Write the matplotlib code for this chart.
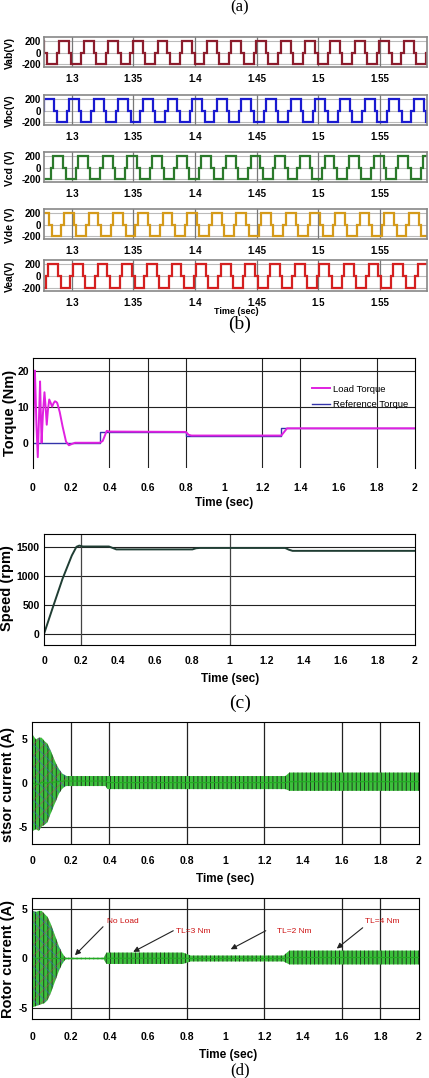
import numpy as np
import matplotlib
matplotlib.use("Agg")
import matplotlib.pyplot as plt

plt.rcParams['font.family'] = ['Liberation Sans', 'DejaVu Sans']
plt.rcParams['hatch.linewidth'] = 0.6
plt.rcParams['axes.unicode_minus'] = False
narrow = ['Liberation Sans Narrow', 'Liberation Sans', 'DejaVu Sans']

# ---- (b) five line voltages ----
volt_names = ['Vab(V)', 'Vbc(V)', 'Vcd (V)', 'Vde (V)', 'Vea(V)']
volt_colors = ['#8b1c2c', '#1a1ad0', '#2c7a2c', '#d49a1a', '#d42020']
volt_rise = [1.2897, 1.2978, 1.2852, 1.2937, 1.2810]   # start of a +200 V step
step_levels = [200, 0, -200, 0]
step_widths = [0.008, 0.002, 0.008, 0.002]
volt_ticks = [1.3, 1.35, 1.4, 1.45, 1.5, 1.55]

# ---- (c) torque and speed ----
load_t = [0, 0.005, 0.010, 0.018, 0.025, 0.032, 0.037, 0.042, 0.045, 0.052, 0.060,
          0.066, 0.072, 0.078, 0.085, 0.093, 0.100, 0.108, 0.115, 0.122, 0.127,
          0.140, 0.155, 0.173, 0.188, 0.205, 0.22, 0.35, 0.365, 0.386, 0.40,
          0.80, 0.815, 0.83, 1.30, 1.315, 1.33, 2.0]
load_v = [0, 12, 20, 5, -4, 8, 17, 6, 0, 8, 14, 10, 5, 9, 12, 11, 10, 11, 11.5,
          11.3, 11, 8.5, 4.5, 0.3, -0.7, -0.3, 0, 0, 0.5, 3.3, 3.1, 3.0, 2.2,
          2.0, 2.0, 3.0, 4.0, 4.0]
ref_t = [0, 0.35, 0.35, 0.80, 0.80, 1.30, 1.30, 2.0]
ref_v = [0, 0, 3, 3, 2, 2, 4, 4]

speed_t = [0, 0.05, 0.10, 0.15, 0.175, 0.19, 0.21, 0.35, 0.37, 0.39, 0.80, 0.82,
           0.84, 1.30, 1.32, 1.34, 2.0]
speed_v = [0, 480, 950, 1350, 1500, 1520, 1505, 1505, 1480, 1455, 1455, 1475,
           1480, 1480, 1450, 1430, 1430]

# ---- (d) current envelopes ----
stator_t = [0, 0.005, 0.02, 0.035, 0.05, 0.065, 0.08, 0.095, 0.11, 0.125, 0.14,
            0.155, 0.17, 0.18, 0.38, 0.39, 1.31, 1.33, 2.0]
stator_hi = [0, 5.5, 5.0, 5.2, 5.2, 4.8, 4.5, 3.8, 3.0, 2.2, 1.6, 1.1, 0.9, 0.8,
             0.8, 0.8, 0.8, 1.2, 1.2]
stator_lo = [0, -5.5, -5.3, -5.5, -5.0, -4.8, -4.5, -3.6, -2.8, -2.0, -1.2, -0.7,
             -0.4, -0.35, -0.35, -0.7, -0.7, -0.9, -0.9]

rotor_t = [0, 0.005, 0.02, 0.035, 0.05, 0.065, 0.08, 0.095, 0.11, 0.125, 0.14,
           0.155, 0.17, 0.18, 0.37, 0.385, 0.78, 0.82, 1.30, 1.33, 2.0]
rotor_hi = [0, 4.8, 4.7, 4.8, 4.8, 4.5, 4.2, 3.6, 2.8, 2.0, 1.2, 0.6, 0.15, 0.08,
            0.08, 0.6, 0.6, 0.3, 0.3, 0.8, 0.8]
rotor_lo = [0, -4.9, -4.8, -4.7, -4.6, -4.5, -4.2, -3.6, -2.8, -2.0, -1.2, -0.6,
            -0.15, -0.08, -0.08, -0.55, -0.55, -0.3, -0.3, -0.6, -0.6]

time_ticks = [0, 0.2, 0.4, 0.6, 0.8, 1, 1.2, 1.4, 1.6, 1.8, 2]
time_labels = ['0', '0.2', '0.4', '0.6', '0.8', '1', '1.2', '1.4', '1.6', '1.8', '2']
annot_text = ['No Load', 'TL=3 Nm', 'TL=2 Nm', 'TL=4 Nm']
annot_txt_xy = [(0.386, 3.7), (0.744, 2.7), (1.267, 2.7), (1.72, 3.7)]
annot_tail = [(0.367, 3.2), (0.73, 2.8), (1.208, 2.8), (1.709, 3.1)]
annot_head = [(0.222, 0.33), (0.523, 0.67), (1.027, 0.93), (1.575, 1.0)]

W, H = 429, 1078
fig = plt.figure(figsize=(W / 100, H / 100), dpi=100)


def box(l, t, r, b):
    return fig.add_axes([l / W, 1 - b / H, (r - l) / W, (b - t) / H])


def ftext(x, y, s, **kw):
    fig.text(x / W, 1 - y / H, s, **kw)


ftext(240, 7, '(a)', family='Liberation Serif', size=12, ha='center', va='center')

# voltage panels
vboxes = [(44, 37, 427, 67), (44, 95, 427, 125), (44, 152, 427, 182),
          (44, 209, 427, 239), (44, 260, 427, 291)]
offs = np.concatenate([[0], np.cumsum(step_widths)])[:-1]
period = sum(step_widths)
for name, col, rise, bx in zip(volt_names, volt_colors, volt_rise, vboxes):
    ax = box(*bx)
    k = np.arange(-3, 18)
    edges = (rise + k[:, None] * period + offs[None, :]).ravel()
    edges = np.append(edges, edges[-1] + step_widths[-1])
    vals = np.tile(step_levels, len(k))
    ax.stairs(vals, edges, baseline=None, color=col, lw=1.6)
    ax.set_xlim(1.2775, 1.5884)
    ax.set_ylim(-250, 270)
    ax.set_yticks([200, 0, -200])
    ax.set_yticklabels(['200', '0', '-200'], fontweight='bold', fontsize=7)
    ax.set_xticks(volt_ticks)
    ax.set_xticklabels([str(v) for v in volt_ticks], fontweight='bold', fontsize=7)
    ax.tick_params(length=0, pad=5)
    ax.tick_params(axis='y', pad=2)
    for v in [200, 0, -200]:
        ax.axhline(v, color='#bbbbbb', lw=0.8, zorder=0)
    for v in volt_ticks:
        ax.axvline(v, color='#777777', lw=0.9, zorder=0)
    for s in ax.spines.values():
        s.set_color('#888888')
        s.set_linewidth(1.2)
    ftext(10, (bx[1] + bx[3]) / 2 + 1, name, rotation=90, fontweight='bold',
          fontsize=7.5, ha='center', va='center')

ftext(236, 312, 'Time (sec)', fontweight='bold', fontsize=6.5, ha='center', va='center')
ftext(240, 324, '(b)', family='Liberation Serif', size=14, ha='center', va='center')


def time_axis(ax, pad):
    ax.set_xlim(0, 2)
    ax.set_xticks(time_ticks)
    ax.set_xticklabels(time_labels, family=narrow, fontweight='bold', fontsize=7.5)
    ax.tick_params(axis='x', length=0, pad=pad)
    ax.tick_params(axis='y', length=0, pad=3)
    for lab in ax.get_yticklabels():
        lab.set_family(narrow)
        lab.set_fontweight('bold')
        lab.set_fontsize(7.5)


# torque
ax = box(33, 358, 415, 468)
ax.plot(ref_t, ref_v, color='#3333aa', lw=1.0, label='Reference Torque')
ax.plot(load_t, load_v, color='#e020e0', lw=1.4, label='Load Torque')
ax.set_ylim(-7, 23.5)
ax.set_yticks([0, 10, 20])
for v in [10, 20]:
    ax.axhline(v, color='#222222', lw=0.8, zorder=0)
for v in [0.4, 0.6, 0.8, 1.2, 1.4, 1.8]:
    ax.axvline(v, color='#222222', lw=0.8, zorder=0)
ax.spines['bottom'].set_visible(False)
time_axis(ax, 11)
h, l = ax.get_legend_handles_labels()
ax.legend(h[::-1], l[::-1], loc='upper left', bbox_to_anchor=(307 / W, 1 - 380 / H),
          bbox_transform=fig.transFigure, frameon=False, borderpad=0,
          handlelength=1.9, handletextpad=0.4, labelspacing=0.7,
          prop={'family': narrow, 'size': 6.8})
ftext(10, 413, 'Torque (Nm)', rotation=90, fontweight='bold', fontsize=10.5,
      ha='center', va='center')
ftext(224, 503, 'Time (sec)', family=narrow, fontweight='bold', fontsize=8.5,
      ha='center', va='center')

# speed
ax = box(44, 534, 415, 645)
ax.plot(speed_t, speed_v, color='#1f3d33', lw=1.4)
ax.set_ylim(-190, 1720)
ax.set_yticks([0, 500, 1000, 1500])
for v in [0, 500, 1000, 1500]:
    ax.axhline(v, color='#222222', lw=0.8, zorder=0)
for v in [0.2, 1.0]:
    ax.axvline(v, color='#444444', lw=0.9, zorder=0)
time_axis(ax, 8)
ftext(7, 588, 'Speed (rpm)', rotation=90, fontweight='bold', fontsize=10.5,
      ha='center', va='center')
ftext(230, 679, 'Time (sec)', family=narrow, fontweight='bold', fontsize=8.5,
      ha='center', va='center')
ftext(240, 703, '(c)', family='Liberation Serif', size=14, ha='center', va='center')


def current_panel(bx, t, hi, lo, ylim, hlines):
    ax = box(*bx)
    ax.fill_between(t, lo, hi, facecolor='#3cbf3c', edgecolor='#1c2a1c',
                    hatch='||||', linewidth=0)
    # multicoloured start-up transient
    n = sum(1 for v in t if v <= 0.18)
    ax.fill_between(t[:n], lo[:n], hi[:n], facecolor='none', edgecolor='#3a5fd0',
                    hatch='\\\\\\', linewidth=0, alpha=0.6)
    ax.fill_between(t[:n], lo[:n], hi[:n], facecolor='none', edgecolor='#c0306a',
                    hatch='///', linewidth=0, alpha=0.5)
    ax.plot(t, [(a + b) / 2 for a, b in zip(hi, lo)], color='#22aa22', lw=0.8)
    ax.set_ylim(*ylim)
    ax.set_yticks([-5, 0, 5])
    for v in hlines:
        ax.axhline(v, color='#222222', lw=0.8, zorder=0)
    for v in [0.2, 0.4, 0.8, 1.2, 1.6, 1.8]:
        ax.axvline(v, color='#222222', lw=0.9, zorder=0)
    time_axis(ax, 9)
    return ax


current_panel((32, 722, 419, 844), stator_t, stator_hi, stator_lo, (-7, 7), [-5])
ftext(8, 784, 'stsor current (A)', rotation=90, fontweight='bold', fontsize=10.5,
      ha='center', va='center')
ftext(225, 879, 'Time (sec)', family=narrow, fontweight='bold', fontsize=8.5,
      ha='center', va='center')

ax = current_panel((32, 898, 419, 1019), rotor_t, rotor_hi, rotor_lo, (-6.1, 6.1), [-5, 5])
for s, txy, tail, head in zip(annot_text, annot_txt_xy, annot_tail, annot_head):
    ax.text(txy[0], txy[1], s, color='#cc1111', family=narrow, fontsize=6,
            ha='left', va='center')
    ax.annotate('', xy=head, xytext=tail,
                arrowprops=dict(arrowstyle='-|>', color='#222222', lw=0.8,
                                mutation_scale=8, shrinkA=0, shrinkB=0))
ftext(8, 959, 'Rotor current (A)', rotation=90, fontweight='bold', fontsize=10.5,
      ha='center', va='center')
ftext(228, 1055, 'Time (sec)', family=narrow, fontweight='bold', fontsize=8.5,
      ha='center', va='center')
ftext(240, 1070, '(d)', family='Liberation Serif', size=12, ha='center', va='center')

fig.savefig('out.png', dpi=100)
